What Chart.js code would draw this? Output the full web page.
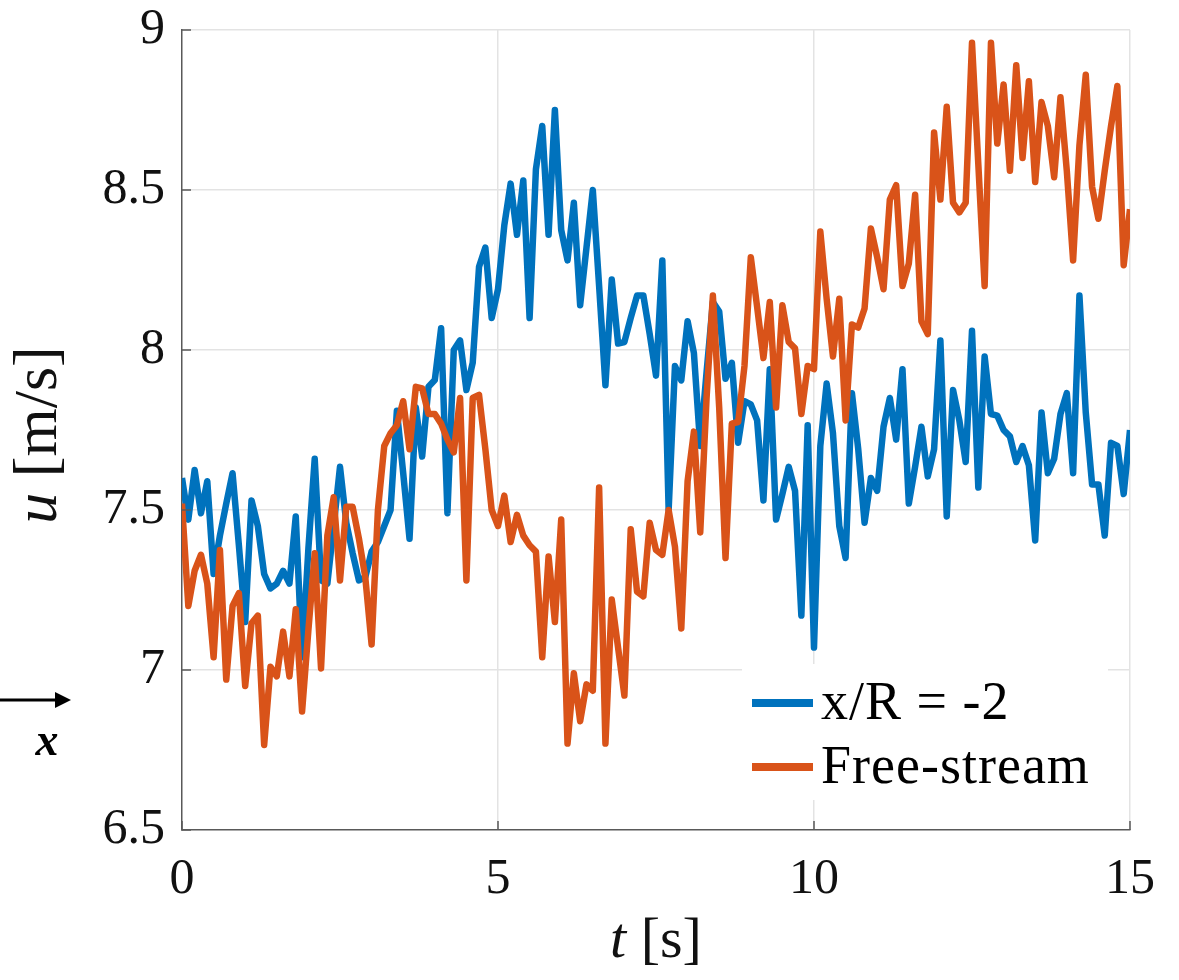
<!DOCTYPE html>
<html>
<head>
<meta charset="utf-8">
<title>Streamwise velocity</title>
<script src="https://cdn.jsdelivr.net/npm/chart.js@4.4.1/dist/chart.umd.min.js"></script>
<style>
  html, body { margin: 0; padding: 0; background: #fff; }
  #wrap { position: relative; width: 1179px; height: 980px; }
</style>
</head>
<body>
<div id="wrap"><canvas id="velocity"></canvas></div>
<script>
// sampling interval of both records [s]
const dt = 0.1;

// u [m/s] two radii upstream
const upstream = [
  7.60, 7.47, 7.625, 7.49, 7.59, 7.30, 7.42, 7.52, 7.615, 7.39,
  7.15, 7.53, 7.45, 7.30, 7.255, 7.27, 7.31, 7.27, 7.48, 7.04,
  7.38, 7.66, 7.28, 7.27, 7.45, 7.635, 7.46, 7.365, 7.28, 7.29,
  7.37, 7.40, 7.45, 7.50, 7.81, 7.615, 7.41, 7.82, 7.667, 7.885,
  7.906, 8.068, 7.49, 8.00, 8.03, 7.875, 7.96, 8.26, 8.32, 8.10,
  8.19, 8.39, 8.52, 8.36, 8.53, 8.10, 8.565, 8.70, 8.36, 8.75,
  8.375, 8.28, 8.46, 8.14, 8.32, 8.50, 8.20, 7.89, 8.22, 8.02,
  8.025, 8.10, 8.17, 8.17, 8.05, 7.92, 8.28, 7.50, 7.95, 7.905,
  8.09, 7.99, 7.70, 7.93, 8.15, 8.12, 7.91, 7.96, 7.71, 7.84,
  7.83, 7.78, 7.53, 7.94, 7.47, 7.55, 7.635, 7.56, 7.17, 7.765,
  7.07, 7.70, 7.895, 7.74, 7.45, 7.35, 7.865, 7.69, 7.46, 7.60,
  7.56, 7.76, 7.85, 7.72, 7.94, 7.52, 7.635, 7.76, 7.605, 7.69,
  8.03, 7.48, 7.875, 7.78, 7.65, 8.06, 7.57, 7.98, 7.80, 7.795,
  7.75, 7.73, 7.65, 7.70, 7.64, 7.405, 7.805, 7.615, 7.66, 7.80,
  7.865, 7.615, 8.17, 7.805, 7.58, 7.58, 7.42, 7.71, 7.70, 7.55, 7.75
];

// u [m/s] in the free stream
const freestream = [
  7.52, 7.20, 7.31, 7.36, 7.27, 7.04, 7.375, 6.97, 7.20, 7.24,
  6.95, 7.146, 7.17, 6.766, 7.01, 6.98, 7.12, 6.98, 7.19, 6.87,
  7.125, 7.365, 7.005, 7.42, 7.54, 7.28, 7.51, 7.51, 7.41, 7.29,
  7.08, 7.50, 7.70, 7.74, 7.765, 7.84, 7.69, 7.885, 7.88, 7.80,
  7.80, 7.77, 7.72, 7.68, 7.85, 7.28, 7.85, 7.86, 7.69, 7.50,
  7.45, 7.545, 7.40, 7.485, 7.42, 7.39, 7.37, 7.04, 7.355, 7.15,
  7.47, 6.77, 6.99, 6.84, 6.955, 6.935, 7.57, 6.77, 7.22, 7.07,
  6.92, 7.44, 7.245, 7.23, 7.46, 7.375, 7.36, 7.50, 7.385, 7.13,
  7.59, 7.745, 7.43, 7.85, 8.17, 7.82, 7.35, 7.77, 7.775, 7.95,
  8.29, 8.135, 7.975, 8.15, 7.82, 8.14, 8.025, 8.005, 7.80, 7.95,
  7.94, 8.37, 8.16, 7.98, 8.16, 7.78, 8.08, 8.07, 8.13, 8.38,
  8.29, 8.19, 8.47, 8.515, 8.20, 8.27, 8.485, 8.09, 8.05, 8.68,
  8.47, 8.76, 8.46, 8.43, 8.46, 8.96, 8.58, 8.20, 8.96, 8.645,
  8.83, 8.56, 8.89, 8.60, 8.84, 8.525, 8.775, 8.70, 8.54, 8.79,
  8.56, 8.28, 8.64, 8.86, 8.51, 8.41, 8.56, 8.70, 8.825, 8.265, 8.44
];

const seriesLabels = ['x/R = -2', 'Free-stream'];
const seriesColors = ['#0072BD', '#D95319'];
const xTicks = [0, 5, 10, 15];
const yTicks = [6.5, 7, 7.5, 8, 8.5, 9];

const times = upstream.map((_, i) => +(i * dt).toFixed(1));
const toPoints = vals => vals.map((v, i) => ({ x: times[i], y: v }));

const SERIF = '"Liberation Serif", "Times New Roman", serif';
const GRID = '#e3e3e3';
const AXIS = '#595959';

// inward tick marks, legend, axis titles and the flow arrow
const decorations = {
  id: 'decorations',
  afterDraw(chart) {
    const { ctx, chartArea: a, scales: { x, y } } = chart;
    ctx.save();

    ctx.strokeStyle = AXIS;
    ctx.lineWidth = 1.5;
    ctx.beginPath();
    yTicks.forEach(v => {
      const py = y.getPixelForValue(v);
      ctx.moveTo(a.left, py);
      ctx.lineTo(a.left + 9, py);
    });
    xTicks.forEach(v => {
      const px = x.getPixelForValue(v);
      ctx.moveTo(px, a.bottom);
      ctx.lineTo(px, a.bottom - 9);
    });
    ctx.stroke();

    // legend, lower right inside the axes
    ctx.fillStyle = '#fff';
    ctx.fillRect(742, 664, 366, 136);
    ctx.font = '54px ' + SERIF;
    ctx.letterSpacing = '1px';
    ctx.textBaseline = 'middle';
    ctx.textAlign = 'left';
    chart.data.datasets.forEach((ds, i) => {
      const rowY = 703 + i * 64;
      ctx.strokeStyle = ds.borderColor;
      ctx.lineWidth = 8;
      ctx.beginPath();
      ctx.moveTo(752, rowY);
      ctx.lineTo(813, rowY);
      ctx.stroke();
      ctx.fillStyle = '#000';
      ctx.fillText(ds.label, 821, rowY + 2);
    });
    ctx.letterSpacing = '0px';

    // y axis title: italic u, roman unit
    ctx.fillStyle = '#111';
    ctx.save();
    ctx.translate(40, 435);
    ctx.rotate(-Math.PI / 2);
    drawMixed(ctx, 'u', ' [m/s]', 62, 0, 0);
    ctx.restore();

    // x axis title
    drawMixed(ctx, 't', ' [s]', 58, 656, 942);

    // flow direction marker
    ctx.fillStyle = '#000';
    ctx.strokeStyle = '#000';
    ctx.lineWidth = 3;
    ctx.beginPath();
    ctx.moveTo(0, 700);
    ctx.lineTo(58, 700);
    ctx.stroke();
    ctx.beginPath();
    ctx.moveTo(55, 692);
    ctx.lineTo(71, 700);
    ctx.lineTo(55, 708);
    ctx.closePath();
    ctx.fill();
    ctx.font = 'bold italic 46px ' + SERIF;
    ctx.textAlign = 'center';
    ctx.textBaseline = 'alphabetic';
    ctx.fillText('x', 47, 755);

    ctx.restore();
  }
};

function drawMixed(ctx, sym, unit, size, cx, cy) {
  const it = 'italic ' + size + 'px ' + SERIF;
  const rm = size + 'px ' + SERIF;
  ctx.textBaseline = 'middle';
  ctx.textAlign = 'left';
  ctx.font = it;
  const w1 = ctx.measureText(sym).width;
  ctx.font = rm;
  const w2 = ctx.measureText(unit).width;
  const x0 = cx - (w1 + w2) / 2;
  ctx.font = it;
  ctx.fillText(sym, x0, cy);
  ctx.font = rm;
  ctx.fillText(unit, x0 + w1, cy);
}

new Chart(document.getElementById('velocity'), {
  type: 'line',
  data: {
    datasets: [upstream, freestream].map((vals, i) => ({
      label: seriesLabels[i],
      data: toPoints(vals),
      borderColor: seriesColors[i],
      backgroundColor: seriesColors[i],
      borderWidth: 6.5,
      borderJoinStyle: 'round',
      pointRadius: 0,
      tension: 0,
      fill: false,
      // free-stream trace sits on top
      order: 1 - i
    }))
  },
  options: {
    responsive: true,
    maintainAspectRatio: false,
    animation: false,
    layout: { padding: { top: 30, right: 49, left: 0, bottom: 0 } },
    plugins: { legend: { display: false }, tooltip: { enabled: false } },
    scales: {
      x: {
        type: 'linear',
        min: 0,
        max: 15,
        afterBuildTicks: s => { s.ticks = xTicks.map(v => ({ value: v })); },
        afterFit: s => { s.height = 150; s.paddingLeft = 0; s.paddingRight = 0; },
        grid: {
          color: c => (c.tick && c.tick.value === 0 ? 'rgba(0,0,0,0)' : GRID),
          lineWidth: 1.5,
          drawTicks: false
        },
        border: { display: true, color: AXIS, width: 1.5 },
        ticks: {
          padding: 20,
          color: '#111',
          font: { family: SERIF, size: 50 },
          maxRotation: 0,
          callback: v => String(v)
        }
      },
      y: {
        type: 'linear',
        min: 6.5,
        max: 9,
        afterBuildTicks: s => { s.ticks = yTicks.map(v => ({ value: v })); },
        afterFit: s => { s.width = 182; s.paddingTop = 0; s.paddingBottom = 0; },
        grid: {
          color: c => (c.tick && c.tick.value === 6.5 ? 'rgba(0,0,0,0)' : GRID),
          lineWidth: 1.5,
          drawTicks: false
        },
        border: { display: true, color: AXIS, width: 1.5 },
        ticks: {
          padding: 17,
          color: '#111',
          font: { family: SERIF, size: 50 },
          callback: v => String(v)
        }
      }
    }
  },
  plugins: [decorations]
});
</script>
</body>
</html>
